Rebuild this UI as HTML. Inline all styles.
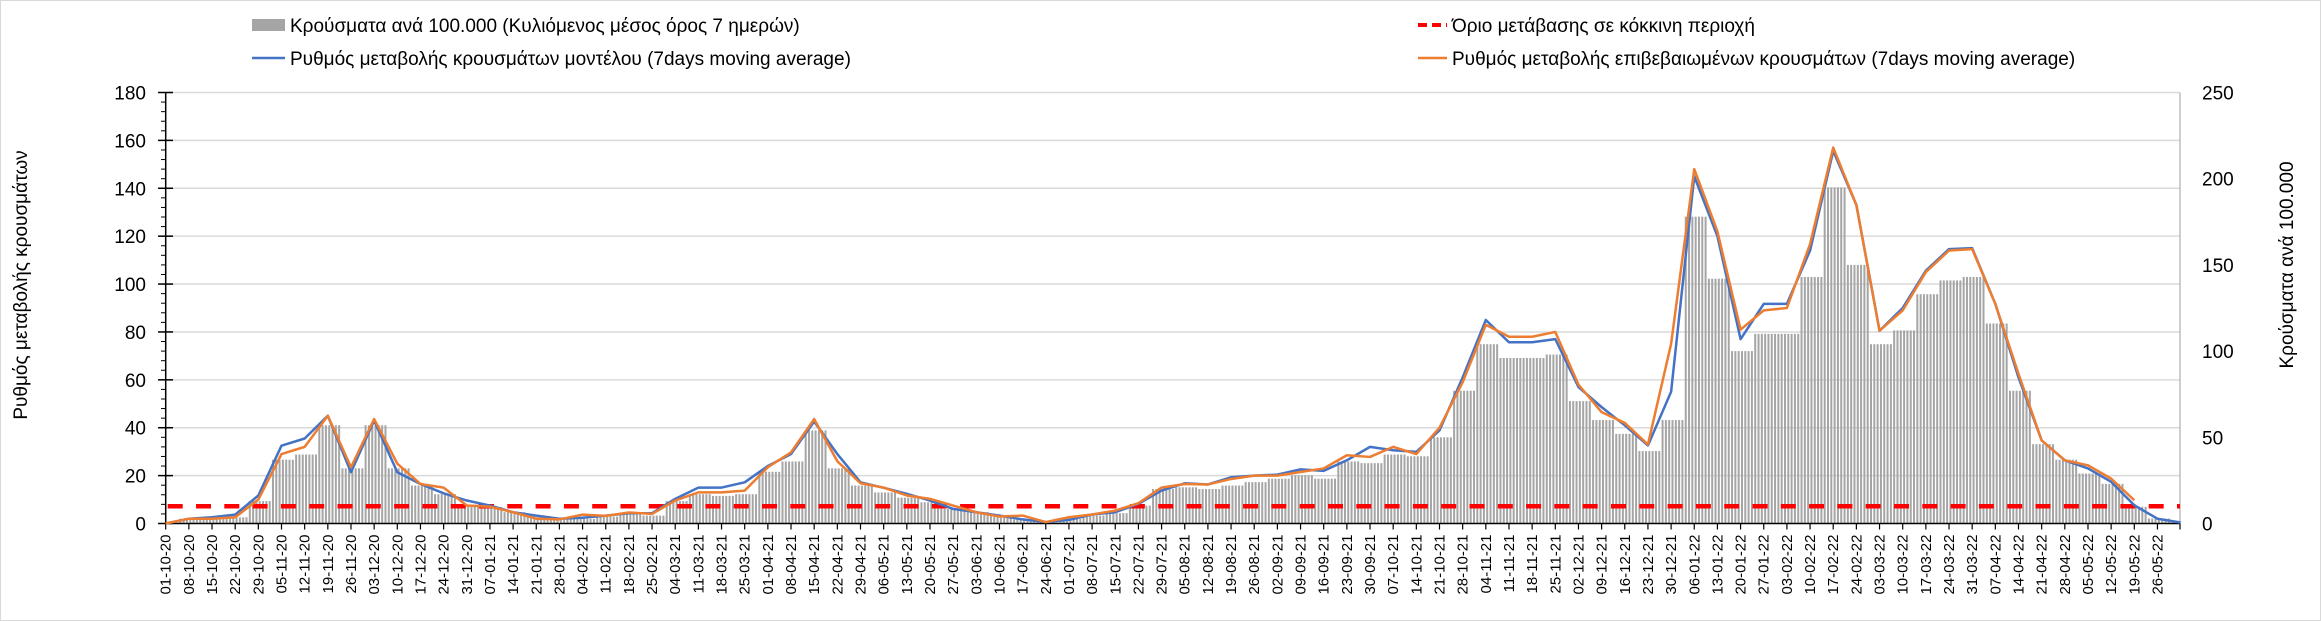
<!DOCTYPE html>
<html><head><meta charset="utf-8"><style>
html,body{margin:0;padding:0;background:#fff}
svg{display:block;font-family:"Liberation Sans","DejaVu Sans",sans-serif}
</style></head><body>
<svg id="chart" width="2321" height="621" viewBox="0 0 2321 621">
<rect x="0.5" y="0.5" width="2320" height="620" fill="#fff" stroke="#d9d9d9"/>
<g id="grid"></g>
<g id="bars"></g>
<g id="axes"></g>
<g id="lines"></g>
<g>
  <g>
    <rect x="252" y="19" width="33" height="12" fill="#a5a5a5"/>
    <text x="290" y="32" font-size="19" fill="#000">Κρούσματα ανά 100.000 (Κυλιόμενος μέσος όρος 7 ημερών)</text>
  </g>
  <g>
    <line x1="252" y1="58" x2="285" y2="58" stroke="#4472c4" stroke-width="2.5"/>
    <text x="290" y="65" font-size="19" fill="#000">Ρυθμός μεταβολής κρουσμάτων μοντέλου (7days moving average)</text>
  </g>
  <g>
    <line x1="1418" y1="25" x2="1447" y2="25" stroke="#ff0000" stroke-width="4" stroke-dasharray="9 5"/>
    <text x="1452" y="32" font-size="19" fill="#000">Όριο μετάβασης σε κόκκινη περιοχή</text>
  </g>
  <g>
    <line x1="1418" y1="58" x2="1447" y2="58" stroke="#ed7d31" stroke-width="2.5"/>
    <text x="1452" y="65" font-size="19" fill="#000">Ρυθμός μεταβολής επιβεβαιωμένων κρουσμάτων (7days moving average)</text>
  </g>
</g>
<text transform="translate(27,285) rotate(-90)" text-anchor="middle" font-size="19" fill="#000">Ρυθμός μεταβολής κρουσμάτων</text>
<text transform="translate(2293,265) rotate(-90)" text-anchor="middle" font-size="19" fill="#000">Κρούσματα ανά 100.000</text>
</svg>
<script>
const leftTicks = [0,20,40,60,80,100,120,140,160,180];
const rightTicks = [0,50,100,150,200,250];
const thresholdValue = 7.2;
const modelRate = [0,2,2.6,3.7,11.7,32.5,35.5,45,21.4,43,21.4,16.5,12.6,9.6,7.5,4.7,3.3,2,2.4,3.3,4.3,4.3,10.3,15,15,17.2,24,29,42.6,29,17.2,14.9,12.4,9.6,6.1,4.7,3.3,1.7,0.6,1.5,3.75,4.7,8.2,13.75,16.8,16.3,19.3,20,20.4,22.6,22,26.4,32,30.6,29.9,38.9,61,85,75.7,75.7,77,57,48.6,41,32.6,55,145,120,77,91.7,91.7,114,155.6,133,80.5,90,105.6,114.6,115,91.7,61,34.7,26.4,23,17.4,7.6,2,0.4];
const confirmedRate = [0,2,2,2.6,10,29,32,45,23.5,43.6,25,16.5,15,7.5,7,4.7,2,1.7,3.7,3.2,4.6,4,9.6,13,13,13.75,23.5,29.7,43.6,26,16.8,15,11.7,10.3,7.5,4.7,2.9,3.3,0.6,2.6,3.75,5.4,8.5,15,16.5,16.3,18.6,20,20,21.5,23,28.5,27.8,32,29,40,59,83,78,78,80,58,46.5,42,33,75,148,122,81,89,90,116.7,157,133,80.5,89,105,114,114.6,91.7,62.5,34.7,26.4,24.3,18.75,9.7];
const casesPer100k = [0,2.8,2.8,3.6,13,37,40,57,32,57,32,22,17,11,9.5,6.6,4,2.7,2.7,4,5.2,4.6,13,17,16,17,30,36,54,32,22,18,15,12.3,8.5,6.6,4.6,2.3,0.6,2.7,4.6,6,10.4,20,21,20,22,24,26,28,26,36,35,40,39,50,77,104,96,96,98,71,60,52,42,60,178,142,100,110,110,143,195,150,104,112,133,141,143,116,77,46,37,29,23,9.7,2.9,0.5];
const dateLabels = [];
for (let i = 0; i <= 86; i++) {
  const d = new Date(Date.UTC(2020, 9, 1 + 7 * i));
  dateLabels.push(String(d.getUTCDate()).padStart(2,'0') + '-' + String(d.getUTCMonth()+1).padStart(2,'0') + '-' + String(d.getUTCFullYear()).slice(2));
}

const NS = 'http://www.w3.org/2000/svg';
const X0 = 165.7, X1 = 2180, WEEK = 23.16, Y0 = 523.5, YTOP = 92.5;
const xw = w => X0 + w * WEEK;
const yL = v => Y0 - v / 180 * (Y0 - YTOP);
const yR = v => Y0 - v / 250 * (Y0 - YTOP);
function mk(tag, attrs, parent) {
  const e = document.createElementNS(NS, tag);
  for (const k in attrs) e.setAttribute(k, attrs[k]);
  parent.appendChild(e);
  return e;
}
const grid = document.getElementById('grid');
const axes = document.getElementById('axes');
const bars = document.getElementById('bars');
const lines = document.getElementById('lines');

leftTicks.forEach(v => {
  if (v > 0) {
    const g = mk('line', {x1: X0, x2: X1, y1: yL(v), y2: yL(v), stroke: '#d9d9d9', 'stroke-width': 1.5}, grid);
    
    
  }
  const t = mk('text', {x: 146, y: yL(v) + 7, 'text-anchor': 'end', 'font-size': 19, fill: '#000'}, axes);
  t.textContent = v;
  
  
  mk('line', {x1: 158, x2: 173, y1: yL(v), y2: yL(v), stroke: '#000', 'stroke-width': 1.5}, axes);
  if (v < 180) for (let k = 1; k < 5; k++) {
    const yy = yL(v + 4 * k);
    mk('line', {x1: 161, x2: X0, y1: yy, y2: yy, stroke: '#000', 'stroke-width': 1}, axes);
  }
});
rightTicks.forEach(v => {
  const t = mk('text', {x: 2202, y: yR(v) + 7, 'font-size': 19, fill: '#000'}, axes);
  t.textContent = v;
  
  
});
mk('line', {x1: X1, x2: X1, y1: YTOP, y2: Y0, stroke: '#bfbfbf', 'stroke-width': 1.5}, axes);

// bars (daily, each day uses its week's value)
const DAY = WEEK / 7;
for (let d = 0; d < 609; d++) {
  const w = Math.min(casesPer100k.length - 1, Math.round(d / 7));
  const v = casesPer100k[w];
  if (v <= 0) continue;
  const b = mk('rect', {x: X0 + d * DAY + 0.4, y: yR(v), width: 2, height: Y0 - yR(v), fill: '#a5a5a5'}, bars);
  
  
}

mk('line', {x1: X0, x2: X0, y1: YTOP, y2: Y0, stroke: '#000', 'stroke-width': 1.5}, axes);
mk('line', {x1: X0, x2: X1, y1: Y0, y2: Y0, stroke: '#000', 'stroke-width': 1.5}, axes);
dateLabels.forEach((lab, i) => {
  const x = xw(i);
  mk('line', {x1: x, x2: x, y1: Y0, y2: Y0 + 6, stroke: '#000', 'stroke-width': 1.2}, axes);
  const t = mk('text', {transform: `translate(${x + 5},${Y0 + 11}) rotate(-90)`, 'text-anchor': 'end', 'font-size': 15, fill: '#000'}, axes);
  t.textContent = lab;
  
  
});
mk('line', {x1: X1, x2: X1, y1: Y0, y2: Y0 + 6, stroke: '#000', 'stroke-width': 1.2}, axes);

const thr = mk('line', {x1: X0 + 2, x2: X1, y1: yL(thresholdValue), y2: yL(thresholdValue), stroke: '#ff0000', 'stroke-width': 4.5, 'stroke-dasharray': '15 13.3'}, lines);



const pm = mk('polyline', {points: modelRate.map((v, i) => xw(i) + ',' + yL(v)).join(' '), fill: 'none', stroke: '#4472c4', 'stroke-width': 2.5, 'stroke-linejoin': 'round'}, lines);


const pc = mk('polyline', {points: confirmedRate.map((v, i) => xw(i) + ',' + yL(v)).join(' '), fill: 'none', stroke: '#ed7d31', 'stroke-width': 2.5, 'stroke-linejoin': 'round'}, lines);


</script>
</body></html>
